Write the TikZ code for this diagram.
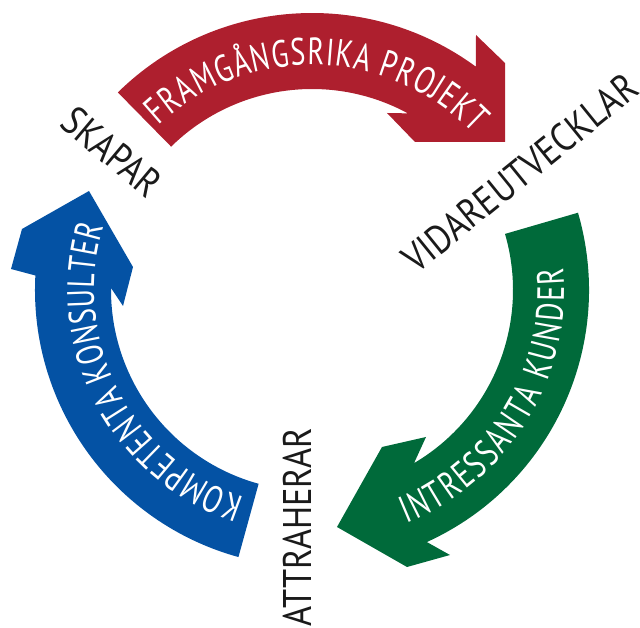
\documentclass[tikz,border=0pt]{standalone}
\usepackage{fontspec}
\usetikzlibrary{decorations.text}
\newfontfamily\wfont[FakeStretch=0.74]{PT Sans}
\newfontfamily\bfont[FakeStretch=0.86]{PT Sans}
\definecolor{arrred}{HTML}{AE1F2E}
\definecolor{arrblue}{HTML}{0452A4}
\definecolor{arrgreen}{HTML}{006A3A}
\definecolor{lbltext}{HTML}{1A1A1A}
\begin{document}
\begin{tikzpicture}[x=1pt,y=1pt,
  bandtext/.style={decorate, decoration={text along path,
      text={|\wfont\fontsize{38}{38}\selectfont|#1},
      text align={fit to path}, text color=white}},
  lbl/.style={text=lbltext, inner sep=0pt, font=\bfont\fontsize{40}{40}\selectfont}]
\useasboundingbox (-312,-338) rectangle (328,290);
% red arrow
\fill[arrred] (134.5:277) arc[start angle=134.5, end angle=53.7, radius=277pt]
  -- (164,255) -- (193,227) -- (193,148) -- (103,148) -- (75,177)
  -- (61.5:201) arc[start angle=61.5, end angle=134.5, radius=201pt] -- cycle;
% blue arrow
\fill[arrblue] (254.6:277) arc[start angle=254.6, end angle=177, radius=277pt]
  -- (-301,21) -- (-290,61) -- (-223,99) -- (-179,23) -- (-189,-16)
  -- (179.4:201) arc[start angle=179.4, end angle=254.6, radius=201pt] -- cycle;
% green arrow
\fill[arrgreen] (16.2:277) arc[start angle=16.2, end angle=-65.5, radius=277pt]
  -- (138,-265) -- (95,-277) -- (25,-237) -- (70,-157) -- (114,-147)
  -- (-59.5:201) arc[start angle=-59.5, end angle=16.2, radius=201pt] -- cycle;
% texts along the bands
\path[bandtext=FRAMGÅNGSRIKA PROJEKT] (133:225) arc[start angle=133, end angle=44, radius=225pt];
\path[bandtext=KOMPETENTA KONSULTER] (252:218) arc[start angle=252, end angle=163, radius=218pt];
\path[bandtext=INTRESSANTA KUNDER] (-68:252) arc[start angle=-68, end angle=5, radius=252pt];
% labels
\node[lbl, rotate=-40] (skapar) at (-200,138) {SKAPAR};
\node[lbl, rotate=39] (vidare) at (208,117) {VIDAREUTVECKLAR};
\node[lbl, rotate=90] (attra) at (-15,-237) {ATTRAHERAR};
\end{tikzpicture}
\end{document}
